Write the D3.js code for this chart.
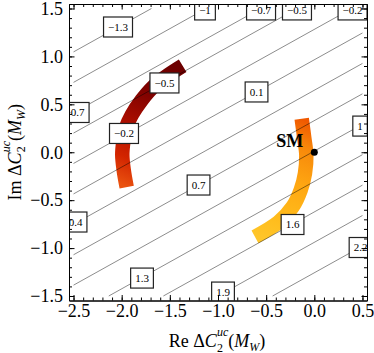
<!DOCTYPE html>
<html>
<head>
<meta charset="utf-8">
<title>Re/Im Delta C2 contours</title>
<style>
body { margin: 0; background: #fff; }
svg text { font-family: "Liberation Serif", "Times New Roman", serif; }
.axis path, .axis line { stroke: #000; stroke-width: 1; }
.axis text { font-size: 18px; fill: #000; }
.contour { stroke: #000; stroke-opacity: 0.45; stroke-width: 1; fill: none; }
.clabel rect { fill: #fff; stroke: #222; stroke-width: 1.2; }
.clabel text { font-size: 11px; fill: #000; }
.arc { fill: none; stroke-width: 14.5; stroke-linecap: butt; }
</style>
</head>
<body>
<script src="https://d3js.org/d3.v7.min.js"></script>
<script>

// tick values
var xTicks = [-2.5, -2, -1.5, -1, -0.5, 0, 0.5];
var yTicks = [-1.5, -1, -0.5, 0, 0.5, 1, 1.5];

// contour lines (straight): level, start, end
var contourLevels = [-1.3, -1.0, -0.7, -0.5, -0.2, 0.1, 0.4, 0.7, 1.0, 1.3, 1.6, 1.9, 2.2];
var contourStart = [[-2.5, 1.047], [-2.5, 0.729], [-2.5, 0.412], [-2.5, 0.200], [-2.5, -0.117],
    [-2.5, -0.435], [-2.5, -0.752], [-2.5, -1.070], [-2.5, -1.387],
    [-2.134, -1.5], [-1.567, -1.5], [-1.000, -1.5], [-0.433, -1.5]];
var contourEnd = [[-1.691, 1.5], [-1.124, 1.5], [-0.557, 1.5], [-0.178, 1.5], [0.389, 1.5],
    [0.5, 1.245], [0.5, 0.927], [0.5, 0.610], [0.5, 0.292],
    [0.5, -0.025], [0.5, -0.343], [0.5, -0.660], [0.5, -0.978]];

// contour labels
var labelText = ["\u22121.3", "\u22121", "\u22120.7", "\u22120.5", "\u22120.2",
    "\u22120.7", "\u22120.5", "\u22120.2", "0.1", "1",
    "0.4", "0.7", "1.6", "1.3", "1.9", "2.2"];
var labelPos = [[-2.038, 1.307], [-1.135, 1.485], [-0.553, 1.485], [-0.180, 1.485], [0.397, 1.485],
    [-2.489, 0.415], [-1.556, 0.723], [-1.976, 0.196], [-0.600, 0.629], [0.475, 0.273],
    [-2.479, -0.728], [-1.202, -0.342], [-0.226, -0.754], [-1.789, -1.313], [-0.948, -1.459], [0.480, -0.994]];

// the two thick bands
var darkBand = [[-1.367, 0.903], [-1.516, 0.806], [-1.672, 0.684], [-1.792, 0.545], [-1.896, 0.389],
    [-1.958, 0.250], [-1.983, 0.110], [-1.994, -0.029], [-1.979, -0.185], [-1.948, -0.365]];
var brightBand = [[-0.131, 0.350], [-0.104, 0.146], [-0.083, -0.029], [-0.097, -0.220], [-0.141, -0.394],
    [-0.224, -0.568], [-0.374, -0.731], [-0.616, -0.882]];

var smPoint = [0, 0];

// Dimensions
var W = 374, H = 353;
var frame = {left: 69, right: 367, top: 4, bottom: 300.5};

var x = d3.scaleLinear().domain([-2.547, 0.547]).range([frame.left, frame.right]);
var y = d3.scaleLinear().domain([-1.547, 1.547]).range([frame.bottom, frame.top]);

var svg = d3.select("body").append("svg")
    .attr("width", W)
    .attr("height", H);

var defs = svg.append("defs");
defs.append("clipPath").attr("id", "plotclip")
    .append("rect")
    .attr("x", frame.left).attr("y", frame.top)
    .attr("width", frame.right - frame.left)
    .attr("height", frame.bottom - frame.top);

function gradient(id, pts, stops) {
    var a = pts[0], b = pts[pts.length - 1];
    var g = defs.append("linearGradient").attr("id", id)
        .attr("gradientUnits", "userSpaceOnUse")
        .attr("x1", x(a[0])).attr("y1", y(a[1]))
        .attr("x2", x(b[0])).attr("y2", y(b[1]));
    stops.forEach(function(s) {
        g.append("stop").attr("offset", s[0]).attr("stop-color", s[1]);
    });
}
gradient("darkGrad", darkBand, [[0, "#6c0000"], [0.3, "#800200"], [0.55, "#ab0e00"], [0.8, "#d22400"], [1, "#ea520f"]]);
gradient("brightGrad", brightBand, [[0, "#f05800"], [0.2, "#f7880a"], [0.5, "#ffa812"], [0.8, "#ffbc1c"], [1, "#ffc62a"]]);

var plot = svg.append("g").attr("clip-path", "url(#plotclip)");

// bands
var line = d3.line()
    .x(function(d) { return x(d[0]); })
    .y(function(d) { return y(d[1]); })
    .curve(d3.curveCatmullRom);

plot.append("path").attr("class", "arc").attr("d", line(darkBand)).attr("stroke", "url(#darkGrad)");
plot.append("path").attr("class", "arc").attr("d", line(brightBand)).attr("stroke", "url(#brightGrad)");

// contours
plot.selectAll(".contour")
    .data(contourLevels)
    .enter().append("line")
    .attr("class", "contour")
    .attr("x1", function(d, i) { return x(contourStart[i][0]); })
    .attr("y1", function(d, i) { return y(contourStart[i][1]); })
    .attr("x2", function(d, i) { return x(contourEnd[i][0]); })
    .attr("y2", function(d, i) { return y(contourEnd[i][1]); });

// contour labels
var labels = plot.selectAll(".clabel")
    .data(labelText)
    .enter().append("g")
    .attr("class", "clabel")
    .attr("transform", function(d, i) {
        return "translate(" + x(labelPos[i][0]) + "," + y(labelPos[i][1]) + ")";
    });
labels.append("rect");
labels.append("text")
    .attr("text-anchor", "middle")
    .attr("dy", "0.34em")
    .text(function(d) { return d; });
labels.each(function() {
    var g = d3.select(this);
    var w = g.select("text").node().getComputedTextLength() + 9;
    g.select("rect").attr("x", -w / 2).attr("y", -10).attr("width", w).attr("height", 20);
});

// SM point
svg.append("circle")
    .attr("cx", x(smPoint[0])).attr("cy", y(smPoint[1]))
    .attr("r", 3.5).attr("fill", "#000");
svg.append("text")
    .attr("x", x(smPoint[0]) - 11).attr("y", y(smPoint[1]) - 5)
    .attr("text-anchor", "end")
    .attr("font-size", "18px").attr("font-weight", "bold")
    .text("SM");

// frame with ticks on all sides
function minor(ext) {
    var out = [];
    for (var v = ext[0]; v <= ext[1] + 1e-9; v += 0.1) out.push(Math.round(v * 10) / 10);
    return out;
}
var xMinor = minor([xTicks[0], xTicks[xTicks.length - 1]]);
var yMinor = minor([yTicks[0], yTicks[yTicks.length - 1]]);
var fmt = d3.format(".1f");

svg.append("g").attr("class", "axis")
    .attr("transform", "translate(0," + frame.bottom + ")")
    .call(d3.axisBottom(x).tickValues(xMinor).tickSize(-3).tickSizeOuter(0).tickFormat(""));
svg.append("g").attr("class", "axis")
    .attr("transform", "translate(0," + frame.bottom + ")")
    .call(d3.axisBottom(x).tickValues(xTicks).tickSize(-5.5).tickSizeOuter(0).tickPadding(4).tickFormat(fmt));
svg.append("g").attr("class", "axis")
    .attr("transform", "translate(0," + frame.top + ")")
    .call(d3.axisTop(x).tickValues(xMinor).tickSize(-3).tickSizeOuter(0).tickFormat(""));
svg.append("g").attr("class", "axis")
    .attr("transform", "translate(0," + frame.top + ")")
    .call(d3.axisTop(x).tickValues(xTicks).tickSize(-5.5).tickSizeOuter(0).tickFormat(""));

svg.append("g").attr("class", "axis")
    .attr("transform", "translate(" + frame.left + ",0)")
    .call(d3.axisLeft(y).tickValues(yMinor).tickSize(-3).tickSizeOuter(0).tickFormat(""));
svg.append("g").attr("class", "axis")
    .attr("transform", "translate(" + frame.left + ",0)")
    .call(d3.axisLeft(y).tickValues(yTicks).tickSize(-5.5).tickSizeOuter(0).tickPadding(6).tickFormat(fmt));
svg.append("g").attr("class", "axis")
    .attr("transform", "translate(" + frame.right + ",0)")
    .call(d3.axisRight(y).tickValues(yMinor).tickSize(-3).tickSizeOuter(0).tickFormat(""));
svg.append("g").attr("class", "axis")
    .attr("transform", "translate(" + frame.right + ",0)")
    .call(d3.axisRight(y).tickValues(yTicks).tickSize(-5.5).tickSizeOuter(0).tickFormat(""));

svg.selectAll(".axis text").attr("font-family", "Liberation Serif, Times New Roman, serif");

// axis titles: Delta C with stacked sub 2 / sup uc
function title(sel, prefix) {
    sel.append("tspan").text(prefix + "\u0394");
    sel.append("tspan").attr("font-style", "italic").text("C");
    sel.append("tspan").attr("font-size", "12px").attr("dy", 4.5).text("2");
    sel.append("tspan").attr("font-size", "12px").attr("font-style", "italic").attr("dx", -6).attr("dy", -15.5).text("uc");
    sel.append("tspan").attr("dy", 11).text("(");
    sel.append("tspan").attr("font-style", "italic").text("M");
    sel.append("tspan").attr("font-size", "12px").attr("font-style", "italic").attr("dy", 4).text("W");
    sel.append("tspan").attr("dy", -4).text(")");
}

var xTitle = svg.append("text")
    .attr("x", (frame.left + frame.right) / 2 - 1)
    .attr("y", 347)
    .attr("text-anchor", "middle")
    .attr("font-size", "18px");
title(xTitle, "Re ");

var yTitle = svg.append("text")
    .attr("transform", "translate(20.5," + ((frame.top + frame.bottom) / 2) + ") rotate(-90)")
    .attr("text-anchor", "middle")
    .attr("font-size", "18px");
title(yTitle, "Im ");

</script>
</body>
</html>
